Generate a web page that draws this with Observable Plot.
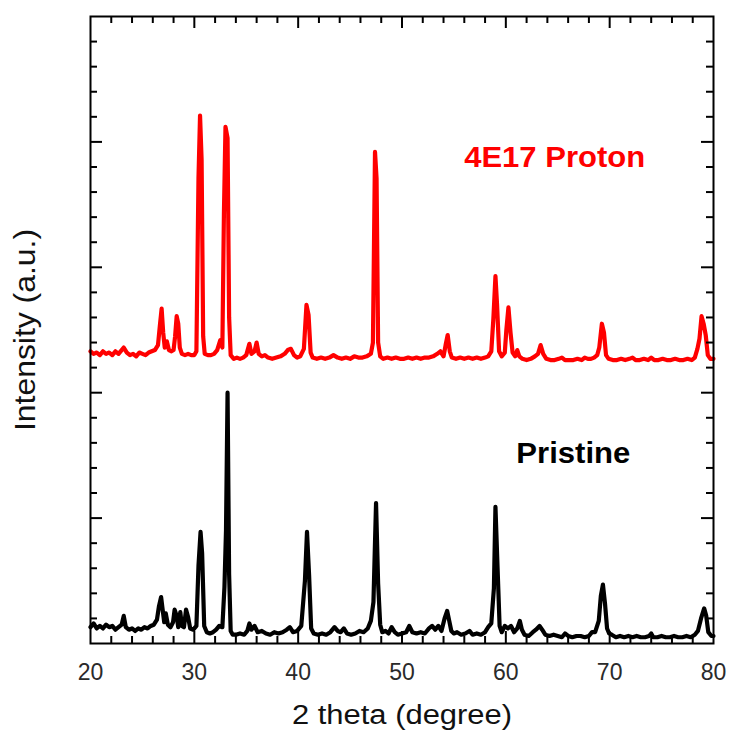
<!DOCTYPE html>
<html>
<head>
<meta charset="utf-8">
<script src="https://cdn.jsdelivr.net/npm/d3@7"></script>
<script src="https://cdn.jsdelivr.net/npm/@observablehq/plot@0.6"></script>
<style>
  html, body { margin: 0; padding: 0; background: #fff; }
  #chart { width: 730px; height: 732px; }
</style>
</head>
<body>
<div id="chart"></div>
<script>
// ---- Pristine (black) : 2-theta and intensity (a.u.)
const pristineTheta = [20.0,20.3,20.6,20.9,21.2,21.5,21.8,22.1,22.4,22.7,23.0,23.2,23.4,23.7,24.0,24.3,24.6,24.9,25.2,25.5,25.8,26.1,26.4,26.6,26.8,26.95,27.1,27.25,27.45,27.7,27.95,28.1,28.3,28.45,28.65,28.8,29.0,29.2,29.4,29.6,29.9,30.2,30.4,30.6,30.75,30.95,31.2,31.5,31.8,32.1,32.4,32.7,32.9,33.05,33.2,33.35,33.5,33.7,34.0,34.4,34.8,35.1,35.3,35.5,35.8,36.1,36.5,36.9,37.3,37.7,38.1,38.5,38.9,39.2,39.5,39.9,40.3,40.65,40.85,41.05,41.25,41.5,41.9,42.3,42.7,43.1,43.5,43.8,44.1,44.4,44.7,45.1,45.5,45.9,46.3,46.7,47.0,47.25,47.5,47.7,47.9,48.1,48.4,48.7,49.0,49.3,49.6,50.0,50.4,50.7,51.0,51.4,51.8,52.2,52.6,52.9,53.2,53.5,53.8,54.1,54.35,54.55,54.75,55.0,55.3,55.7,56.1,56.5,56.8,57.2,57.6,58.0,58.3,58.6,58.85,59.0,59.2,59.4,59.6,59.9,60.2,60.5,60.8,61.1,61.35,61.55,61.8,62.2,62.6,62.9,63.25,63.5,63.8,64.2,64.6,65.0,65.4,65.7,66.0,66.4,66.8,67.2,67.6,68.0,68.3,68.6,68.95,69.15,69.35,69.55,69.75,69.95,70.2,70.6,71.0,71.4,71.8,72.2,72.6,73.0,73.4,73.8,74.0,74.2,74.6,75.0,75.4,75.8,76.2,76.6,77.0,77.4,77.8,78.2,78.5,78.8,79.1,79.3,79.5,79.8,80.0];
const pristineIntensity = [0.13,0.16,0.12,0.14,0.12,0.15,0.13,0.14,0.11,0.13,0.15,0.22,0.13,0.11,0.12,0.10,0.12,0.11,0.13,0.12,0.14,0.15,0.19,0.30,0.37,0.27,0.17,0.24,0.15,0.13,0.17,0.27,0.22,0.13,0.25,0.14,0.13,0.27,0.21,0.12,0.11,0.14,0.62,0.89,0.72,0.14,0.09,0.08,0.09,0.11,0.14,0.13,0.45,0.90,2.00,0.55,0.10,0.07,0.07,0.08,0.07,0.10,0.16,0.11,0.14,0.09,0.10,0.08,0.07,0.09,0.08,0.09,0.11,0.13,0.09,0.10,0.14,0.50,0.89,0.55,0.12,0.08,0.07,0.08,0.07,0.09,0.13,0.10,0.09,0.12,0.08,0.07,0.08,0.10,0.09,0.12,0.18,0.33,1.12,0.48,0.15,0.09,0.10,0.08,0.13,0.09,0.07,0.08,0.09,0.14,0.09,0.08,0.09,0.08,0.12,0.14,0.11,0.14,0.10,0.20,0.26,0.18,0.10,0.08,0.09,0.07,0.08,0.10,0.07,0.08,0.07,0.09,0.13,0.16,0.44,1.09,0.61,0.14,0.09,0.14,0.12,0.14,0.09,0.12,0.18,0.11,0.07,0.06,0.09,0.11,0.14,0.11,0.07,0.06,0.07,0.06,0.05,0.08,0.06,0.05,0.06,0.06,0.05,0.06,0.09,0.09,0.18,0.38,0.47,0.32,0.12,0.08,0.07,0.05,0.06,0.05,0.06,0.05,0.06,0.05,0.05,0.06,0.08,0.05,0.05,0.06,0.05,0.05,0.06,0.05,0.05,0.06,0.05,0.07,0.10,0.20,0.28,0.22,0.09,0.06,0.06];

// ---- 4E17 Proton (red) : 2-theta and intensity (a.u.)
const protonTheta = [20.0,20.3,20.6,20.9,21.2,21.5,21.8,22.1,22.4,22.7,23.0,23.2,23.5,23.8,24.1,24.4,24.7,25.0,25.3,25.6,25.9,26.2,26.5,26.7,26.85,27.0,27.15,27.35,27.55,27.8,28.0,28.15,28.3,28.45,28.6,28.8,29.1,29.4,29.7,30.0,30.2,30.4,30.55,30.7,30.85,31.0,31.3,31.6,31.9,32.2,32.5,32.7,32.85,33.0,33.2,33.35,33.5,33.8,34.1,34.4,34.7,35.0,35.3,35.5,35.8,36.0,36.2,36.5,36.8,37.1,37.5,37.9,38.3,38.7,39.0,39.3,39.6,39.9,40.2,40.55,40.8,41.0,41.2,41.4,41.8,42.2,42.6,43.0,43.4,43.8,44.2,44.6,45.0,45.4,45.8,46.2,46.6,47.0,47.2,47.4,47.55,47.7,47.9,48.2,48.6,49.0,49.4,49.8,50.2,50.6,51.0,51.4,51.8,52.2,52.6,53.0,53.4,53.7,54.0,54.2,54.4,54.6,54.8,55.2,55.6,56.0,56.4,56.8,57.2,57.6,58.0,58.3,58.6,58.8,59.0,59.15,59.35,59.6,59.9,60.05,60.25,60.45,60.65,60.9,61.1,61.3,61.6,62.0,62.4,62.8,63.1,63.35,63.6,63.9,64.3,64.7,65.1,65.4,65.7,66.1,66.5,66.9,67.3,67.6,67.9,68.2,68.5,68.8,69.0,69.25,69.45,69.65,69.9,70.3,70.7,71.1,71.5,71.9,72.2,72.5,72.9,73.3,73.7,74.0,74.3,74.7,75.1,75.5,75.9,76.3,76.7,77.1,77.5,77.9,78.2,78.45,78.65,78.85,79.05,79.25,79.45,79.7,80.0];
const protonIntensity = [2.33,2.31,2.32,2.30,2.33,2.31,2.32,2.30,2.33,2.31,2.34,2.36,2.32,2.30,2.31,2.29,2.32,2.31,2.30,2.32,2.33,2.34,2.38,2.55,2.67,2.48,2.36,2.41,2.34,2.33,2.34,2.45,2.61,2.55,2.36,2.31,2.30,2.31,2.30,2.30,2.33,3.71,4.21,3.86,2.45,2.31,2.30,2.30,2.31,2.34,2.42,2.36,3.43,4.12,4.03,2.60,2.30,2.27,2.28,2.27,2.28,2.30,2.39,2.31,2.33,2.40,2.31,2.29,2.30,2.28,2.27,2.28,2.29,2.31,2.34,2.35,2.30,2.28,2.29,2.35,2.70,2.62,2.32,2.28,2.27,2.28,2.27,2.28,2.30,2.28,2.27,2.28,2.27,2.29,2.28,2.28,2.29,2.31,2.40,3.92,3.71,2.40,2.29,2.27,2.28,2.27,2.28,2.27,2.27,2.28,2.27,2.28,2.27,2.28,2.28,2.29,2.31,2.33,2.29,2.38,2.46,2.33,2.28,2.27,2.28,2.27,2.28,2.27,2.28,2.27,2.28,2.29,2.33,2.59,2.93,2.71,2.33,2.29,2.32,2.50,2.68,2.48,2.32,2.29,2.34,2.29,2.27,2.26,2.27,2.29,2.31,2.38,2.31,2.27,2.26,2.26,2.27,2.28,2.26,2.26,2.26,2.27,2.26,2.28,2.27,2.27,2.28,2.30,2.36,2.55,2.48,2.30,2.27,2.26,2.26,2.27,2.26,2.27,2.28,2.26,2.26,2.27,2.26,2.28,2.26,2.26,2.27,2.26,2.26,2.27,2.26,2.26,2.27,2.26,2.28,2.35,2.43,2.61,2.55,2.46,2.30,2.27,2.27];

// ---- axis tick values
const xTickLabels = [20, 30, 40, 50, 60, 70, 80];
const xMajorTicks = [30, 40, 50, 60, 70];
const xMinorTicks = [22, 24, 26, 28, 32, 34, 36, 38, 42, 44, 46, 48, 52, 54, 56, 58, 62, 64, 66, 68, 72, 74, 76, 78];
const yMajorTicks = [1, 2, 3, 4];
const yMinorTicks = [0.2, 0.4, 0.6, 0.8, 1.2, 1.4, 1.6, 1.8, 2.2, 2.4, 2.6, 2.8, 3.2, 3.4, 3.6, 3.8, 4.2, 4.4, 4.6, 4.8];

// ---- text
const seriesLabels = ["4E17 Proton", "Pristine"];
const seriesLabelTheta = [64.7, 66.5];
const seriesLabelIntensity = [3.80, 1.44];
const seriesColors = ["#ff0000", "#000000"];
const xTitle = "2 theta (degree)";
const yTitle = "Intensity (a.u.)";

const pristine = pristineTheta.map((t, i) => ({theta: t, v: pristineIntensity[i]}));
const proton = protonTheta.map((t, i) => ({theta: t, v: protonIntensity[i]}));
const labelRows = seriesLabels.map((s, i) => ({s, x: seriesLabelTheta[i], y: seriesLabelIntensity[i], c: seriesColors[i]}));

const W = 730, H = 732, mL = 90, mR = 17, mT = 16, mB = 89;
const fw = W - mL - mR, fh = H - mT - mB;
const MAJ = 12, MIN = 7;

const chart = Plot.plot({
  width: W, height: H,
  marginLeft: mL, marginRight: mR, marginTop: mT, marginBottom: mB,
  x: {domain: [20, 80]},
  y: {domain: [0, 5], axis: null},
  style: {fontFamily: "'Liberation Sans', Arial, sans-serif", background: "#fff", color: "#000"},
  marks: [
    Plot.line(pristine, {x: "theta", y: "v", stroke: seriesColors[1], strokeWidth: 4.2}),
    Plot.line(proton, {x: "theta", y: "v", stroke: seriesColors[0], strokeWidth: 4.2}),
    Plot.frame({stroke: "#000", strokeWidth: 2}),
    // x ticks, top and bottom, pointing inward
    Plot.tickX(xMajorTicks, {x: d => d, insetBottom: fh - MAJ, strokeWidth: 2}),
    Plot.tickX(xMajorTicks, {x: d => d, insetTop: fh - MAJ, strokeWidth: 2}),
    Plot.tickX(xMinorTicks, {x: d => d, insetBottom: fh - MIN, strokeWidth: 2}),
    Plot.tickX(xMinorTicks, {x: d => d, insetTop: fh - MIN, strokeWidth: 2}),
    // y ticks, left and right, pointing inward
    Plot.tickY(yMajorTicks, {y: d => d, insetRight: fw - MAJ, strokeWidth: 2}),
    Plot.tickY(yMajorTicks, {y: d => d, insetLeft: fw - MAJ, strokeWidth: 2}),
    Plot.tickY(yMinorTicks, {y: d => d, insetRight: fw - MIN, strokeWidth: 2}),
    Plot.tickY(yMinorTicks, {y: d => d, insetLeft: fw - MIN, strokeWidth: 2}),
    Plot.axisX({ticks: xTickLabels, tickSize: 0, tickPadding: 20, fontSize: 23, color: "#2a2a2a", label: null, tickFormat: d => String(d)}),
    Plot.text(labelRows, {x: "x", y: "y", text: "s", fill: "c", fontSize: 29, fontWeight: "bold", textAnchor: "middle", lineAnchor: "bottom"}),
    Plot.text([xTitle], {frameAnchor: "bottom", dy: 80, textAnchor: "middle", lineAnchor: "bottom", fontSize: 27, fill: "#111"}),
    Plot.text([yTitle], {frameAnchor: "left", dx: -65, rotate: -90, textAnchor: "middle", lineAnchor: "middle", fontSize: 29, fill: "#111"})
  ]
});

// horizontal stretching of the titles to match the reference
const stretch = {"2 theta (degree)": 220, "Intensity (a.u.)": 202, "4E17 Proton": 181, "Pristine": 114};
chart.querySelectorAll("text").forEach(t => {
  const s = t.textContent;
  if (stretch[s]) {
    t.setAttribute("textLength", stretch[s]);
    t.setAttribute("lengthAdjust", "spacingAndGlyphs");
  }
});
document.getElementById("chart").append(chart);
</script>
</body>
</html>
